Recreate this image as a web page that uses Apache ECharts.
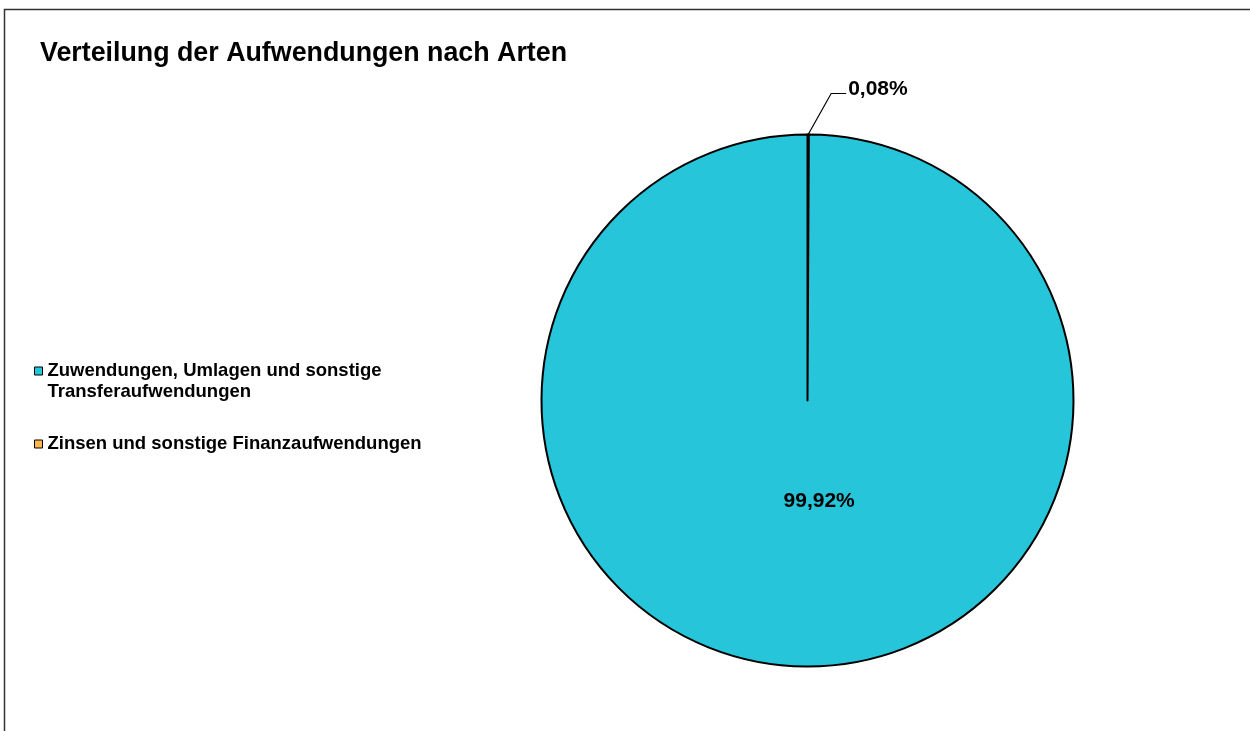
<!DOCTYPE html>
<html><head><meta charset="utf-8">
<script src="https://cdn.jsdelivr.net/npm/echarts@6/dist/echarts.min.js"></script>
<style>html,body{margin:0;padding:0;background:#fff;}#c{width:1250px;height:731px;}</style>
</head><body><div id="c"></div>
<script>
const titleText = 'Verteilung der Aufwendungen nach Arten';
const categories = ['Zuwendungen, Umlagen und sonstige Transferaufwendungen', 'Zinsen und sonstige Finanzaufwendungen'];
const legendLabels = ['Zuwendungen, Umlagen und sonstige\nTransferaufwendungen', 'Zinsen und sonstige Finanzaufwendungen'];
const percentValues = [99.92, 0.08];
const colors = ['#26C5D9', '#FFB74D'];

const font = '"Liberation Sans", Arial, sans-serif';
// small slice first so it sits just right of 12 o'clock (label to the right)
const order = [1, 0];
const pieData = order.map(i => ({
  name: categories[i],
  value: percentValues[i],
  itemStyle: { color: colors[i] },
  label: i === 0
    ? { position: 'inside', offset: [12, -35] }
    : { position: 'outside' },
  labelLine: { show: i !== 0 }
}));

const chart = echarts.init(document.getElementById('c'), null, { renderer: 'canvas' });
chart.setOption({
  animation: false,
  backgroundColor: '#fff',
  graphic: [{
    type: 'rect', silent: true, z: -1,
    shape: { x: 4.5, y: 9.5, width: 3000, height: 3000 },
    style: { fill: 'none', stroke: '#333', lineWidth: 1.5 }
  }],
  title: {
    text: titleText, left: 35, top: 35,
    textStyle: { fontFamily: font, fontWeight: 'bold', fontSize: 26.8, color: '#000' }
  },
  legend: {
    orient: 'vertical', left: 34, top: 339.5, padding: 0,
    icon: 'rect', itemWidth: 8, itemHeight: 8, itemGap: 31,
    selectedMode: false,
    itemStyle: { borderColor: '#000', borderWidth: 1 },
    data: categories,
    // a blank leading line keeps the icon level with the first text line
    formatter: n => {
      const t = legendLabels[categories.indexOf(n)];
      return t.indexOf('\n') >= 0 ? ' \n' + t : t;
    },
    textStyle: { fontFamily: font, fontWeight: 'bold', fontSize: 18.5, lineHeight: 21, color: '#000' }
  },
  series: [{
    type: 'pie',
    center: [807.5, 400.5],
    radius: 266,
    startAngle: 90,
    clockwise: true,
    avoidLabelOverlap: false,
    itemStyle: { borderColor: '#000', borderWidth: 2 },
    label: {
      fontFamily: font, fontWeight: 'bold', fontSize: 21, color: '#000',
      formatter: p => p.value.toFixed(2).replace('.', ',') + '%'
    },
    labelLine: { lineStyle: { color: '#000', width: 1.2 }, length: 40, length2: 15 },
    labelLayout: function (p) {
      if (!p.labelLinePoints) return;
      const a = p.labelLinePoints[0];
      return {
        x: a[0] + 40, y: a[1] - 45, align: 'left', verticalAlign: 'middle',
        labelLinePoints: [a, [a[0] + 23, a[1] - 41], [a[0] + 38, a[1] - 41]]
      };
    },
    emphasis: { disabled: true },
    data: pieData
  }]
});
</script></body></html>
